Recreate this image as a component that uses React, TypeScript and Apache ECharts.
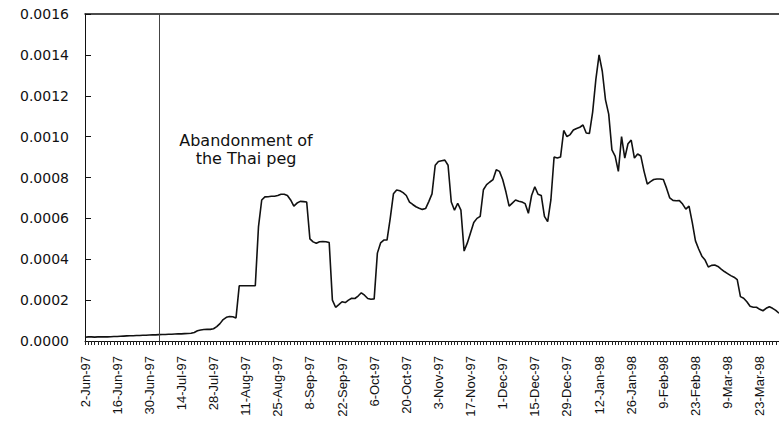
import React, { useEffect, useRef } from "react";
import * as echarts from "echarts";

// Business-day calendar of the chart (Mon-Fri), 2-Jun-97 .. 31-Mar-98
const START_DATE = "1997-06-02";
const END_DATE = "1998-03-31";
const MONTHS = ["Jan", "Feb", "Mar", "Apr", "May", "Jun", "Jul", "Aug", "Sep", "Oct", "Nov", "Dec"];

function businessDays(start: string, end: string): string[] {
  const out: string[] = [];
  const d = new Date(start + "T00:00:00Z");
  const e = new Date(end + "T00:00:00Z");
  while (d.getTime() <= e.getTime()) {
    const wd = d.getUTCDay();
    if (wd !== 0 && wd !== 6) {
      const yy = String(d.getUTCFullYear() % 100).padStart(2, "0");
      out.push(`${d.getUTCDate()}-${MONTHS[d.getUTCMonth()]}-${yy}`);
    }
    d.setUTCDate(d.getUTCDate() + 1);
  }
  return out;
}

const categories = businessDays(START_DATE, END_DATE);

// Series values (one per business day)
const values1 = [
  0.000018, 0.00002, 0.00002, 0.000019, 0.00002, 0.000021, 0.00002, 0.00002, 0.000021, 0.000022,
  0.000022, 0.000023, 0.000024, 0.000025, 0.000026, 0.000026, 0.000027, 0.000027, 0.000028, 0.000028,
  0.000029, 0.00003, 0.00003, 0.000031, 0.000032, 0.000032, 0.000033, 0.000033, 0.000034, 0.000035,
  0.000035, 0.000036, 0.000037, 0.000038, 0.000042, 0.00005, 0.000054, 0.000056, 0.000057, 0.000057,
  0.00006, 0.00007, 0.000085, 0.000105, 0.000116, 0.00012, 0.000119, 0.000113, 0.00027, 0.00027,
  0.00027, 0.00027, 0.00027, 0.00027,
];
const values2 = [
  0.00056, 0.00069, 0.000705, 0.000706, 0.000708, 0.000708, 0.000712, 0.000718, 0.000718, 0.000712,
  0.00069, 0.00066, 0.000675, 0.000683, 0.000682, 0.00068, 0.0005, 0.000485, 0.000478, 0.000486,
  0.000487, 0.000486, 0.000482, 0.0002, 0.000165, 0.000178, 0.000192, 0.000188, 0.0002, 0.000209,
  0.000208, 0.00022, 0.000236, 0.000224, 0.000208, 0.000204, 0.000206, 0.00043, 0.00048, 0.000494,
  0.000494, 0.0006, 0.00072, 0.000739, 0.000735, 0.000726, 0.000712, 0.00068, 0.000668, 0.000657,
  0.00065, 0.000644, 0.000648, 0.000682, 0.00072, 0.00086,
];
const values3 = [
  0.000878, 0.000882, 0.000885, 0.00086, 0.00068, 0.00064, 0.000674, 0.00064, 0.00044, 0.00048,
  0.00053, 0.00058, 0.0006, 0.00061, 0.00074, 0.000765, 0.000778, 0.00079, 0.000838, 0.00083,
  0.00079, 0.00073, 0.00066, 0.000675, 0.00069, 0.000684, 0.00068, 0.000672, 0.000625, 0.000712,
  0.000755, 0.000718, 0.000712, 0.00061, 0.000584, 0.00069, 0.0009, 0.000895, 0.0009, 0.00103,
  0.001, 0.00101, 0.001032, 0.00104, 0.001046, 0.001057, 0.001018, 0.001016, 0.00112, 0.00128,
  0.0014,
];
const values4 = [
  0.00132, 0.00118, 0.00111, 0.000935, 0.000905, 0.00083, 0.001, 0.000895, 0.000965, 0.000983,
  0.000895, 0.000915, 0.000905, 0.00083, 0.000768, 0.00078, 0.00079, 0.000793, 0.000793, 0.00079,
  0.000748, 0.0007, 0.000688, 0.000686, 0.000687, 0.00067, 0.000645, 0.00066, 0.00058, 0.00049,
  0.00045, 0.000415, 0.000396, 0.000362, 0.00037, 0.000372, 0.000365, 0.000352, 0.00034, 0.00033,
  0.00032, 0.000312, 0.0003, 0.000217, 0.000209, 0.000192, 0.00017, 0.000165, 0.000165, 0.000155,
  0.000148, 0.00016, 0.000168, 0.00016, 0.00015, 0.000136,
];
const seriesValues = [...values1, ...values2, ...values3, ...values4];

const yTicks = [0, 0.0002, 0.0004, 0.0006, 0.0008, 0.001, 0.0012, 0.0014, 0.0016];
const eventDate = "3-Jul-97";
const eventLabel = "Abandonment of\nthe Thai peg";

export default function App() {
  const ref = useRef<HTMLDivElement>(null);
  useEffect(() => {
    if (!ref.current) return;
    const chart = echarts.init(ref.current, null, { renderer: "svg" });
    chart.setOption({
      animation: false,
      backgroundColor: "#ffffff",
      grid: { left: 85, top: 14, right: 0, bottom: 87, containLabel: false },
      xAxis: [
        {
          type: "category",
          data: categories,
          boundaryGap: false,
          axisLine: { show: true, lineStyle: { color: "#111", width: 1 } },
          axisTick: { show: true, interval: 0, length: 4, inside: false, lineStyle: { color: "#222", width: 1 } },
          axisLabel: {
            interval: 9,
            rotate: 90,
            margin: 15,
            color: "#111",
            fontSize: 13,
            fontFamily: "Liberation Sans, Arial, sans-serif",
          },
          splitLine: { show: false },
        },
        {
          type: "category",
          data: categories,
          boundaryGap: false,
          position: "top",
          axisLine: { show: true, lineStyle: { color: "#111", width: 1.5 } },
          axisTick: { show: false },
          axisLabel: { show: false },
          splitLine: { show: false },
        },
      ],
      yAxis: {
        type: "value",
        min: yTicks[0],
        max: yTicks[yTicks.length - 1],
        interval: 0.0002,
        axisLine: { show: true, lineStyle: { color: "#111", width: 1 } },
        axisTick: { show: true, inside: true, length: 6, lineStyle: { color: "#111" } },
        splitLine: { show: false },
        axisLabel: {
          margin: 16,
          color: "#111",
          fontSize: 14,
          fontFamily: "DejaVu Sans, sans-serif",
          formatter: (v: number) => v.toFixed(4),
        },
      },
      series: [
        {
          type: "line",
          data: seriesValues,
          showSymbol: false,
          symbol: "none",
          lineStyle: { color: "#111", width: 1.6 },
          markLine: {
            silent: true,
            symbol: ["none", "none"],
            label: { show: false },
            lineStyle: { color: "#444", width: 1, type: "solid" },
            data: [{ xAxis: eventDate }],
          },
        },
      ],
      graphic: [
        {
          type: "text",
          x: 246,
          y: 131,
          style: {
            text: eventLabel,
            fill: "#111",
            font: "16px 'DejaVu Sans', sans-serif",
            textAlign: "center",
            textVerticalAlign: "top",
            lineHeight: 18,
          },
        },
      ],
    });
    return () => chart.dispose();
  }, []);
  return (
    <div
      ref={ref}
      style={{ position: "fixed", left: 0, top: 0, width: 779, height: 428, background: "#fff" }}
    />
  );
}
